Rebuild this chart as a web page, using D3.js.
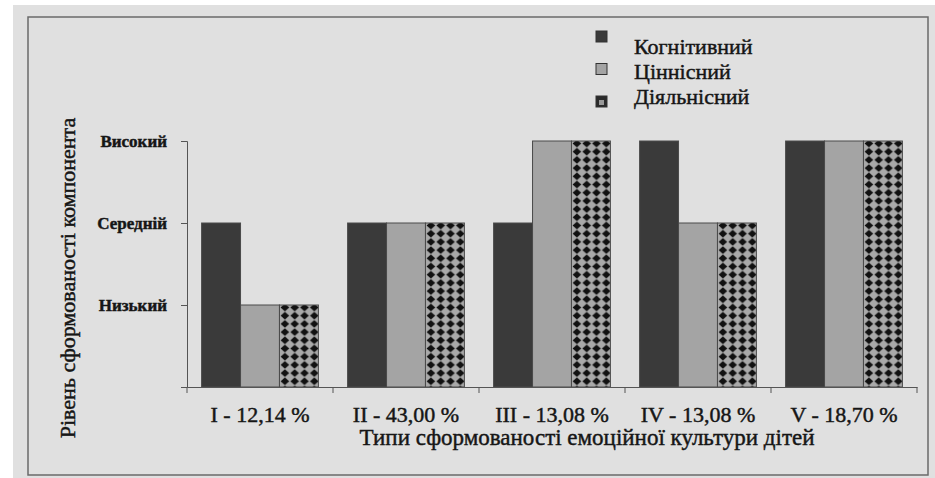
<!DOCTYPE html>
<html>
<head>
<meta charset="utf-8">
<script src="https://cdn.jsdelivr.net/npm/d3@7"></script>
<style>
  body { margin: 0; background: #fff; }
  text { font-family: 'Liberation Serif', 'Times New Roman', serif; fill: #161616; stroke: #161616; stroke-width: 0.45px; }
</style>
</head>
<body>
<div class="root"></div>
<script>
'use strict';

var types = ['I - 12,14 %', 'II - 43,00 %', 'III - 13,08 %', 'IV - 13,08 %', 'V - 18,70 %'];
var series = ['Когнітивний', 'Ціннісний', 'Діяльнісний'];
var levels = ['Низький', 'Середній', 'Високий'];
var cognitive = [2, 2, 2, 3, 3];
var valueComp = [1, 2, 3, 2, 3];
var activity = [1, 2, 3, 2, 3];

var values = [cognitive, valueComp, activity];
var fills = ['#3a3a3a', '#a4a4a4', 'url(#dots)'];

var svg = d3.select('div.root').append('svg')
  .attr('width', 935)
  .attr('height', 478);

// dotted fill for the third series (black diamonds on grey)
var pat = svg.append('defs').append('pattern')
  .attr('id', 'dots')
  .attr('patternUnits', 'userSpaceOnUse')
  .attr('width', 9.8)
  .attr('height', 8.2);
pat.append('rect').attr('width', 9.8).attr('height', 8.2).attr('fill', '#a9a9a9');
pat.append('path')
  .attr('d', 'M4.9,0.2 L9.2,4.1 L4.9,8.0 L0.6,4.1 Z')
  .attr('fill', '#111');

// scanned page + frame
svg.append('rect')
  .attr('x', 13).attr('y', 5)
  .attr('width', 922).attr('height', 473)
  .attr('fill', '#e0e0e0');

svg.append('rect')
  .attr('x', 28).attr('y', 17)
  .attr('width', 900).attr('height', 458)
  .attr('fill', 'none')
  .attr('stroke', '#6a6a6a')
  .attr('stroke-width', 1.5);

var x0 = d3.scaleBand().domain(types).range([187, 917]).paddingInner(0.2).paddingOuter(0.1);
var x1 = d3.scaleBand().domain(series).range([0, x0.bandwidth()]);
var y = d3.scaleLinear().domain([0, 3]).range([387, 141]);

// bars
var groups = svg.selectAll('g.grp')
  .data(types)
  .enter().append('g')
  .attr('class', 'grp')
  .attr('transform', function (d) { return 'translate(' + x0(d) + ',0)'; });

groups.selectAll('rect')
  .data(function (d, i) {
    return series.map(function (s, k) { return { s: s, k: k, v: values[k][i] }; });
  })
  .enter().append('rect')
  .attr('x', function (d) { return x1(d.s); })
  .attr('y', function (d) { return y(d.v); })
  .attr('width', x1.bandwidth())
  .attr('height', function (d) { return y(0) - y(d.v); })
  .attr('fill', function (d) { return fills[d.k]; })
  .attr('stroke', '#4a4a4a')
  .attr('stroke-width', 1);

// y axis
var yAxis = svg.append('g')
  .attr('transform', 'translate(187,0)')
  .call(d3.axisLeft(y).tickValues([0, 1, 2, 3]).tickSize(6)
    .tickFormat(function (d) { return d === 0 ? '' : levels[d - 1]; }));
yAxis.select('.domain').attr('stroke', '#555');
yAxis.selectAll('.tick line').attr('stroke', '#555');
yAxis.selectAll('.tick text')
  .attr('x', -20)
  .attr('font-size', 17)
  .attr('font-weight', 'bold');

// x axis
var xAxis = svg.append('g')
  .attr('transform', 'translate(0,387)')
  .call(d3.axisBottom(x0).tickSize(0).tickSizeOuter(0));
xAxis.select('.domain').attr('stroke', '#555');
xAxis.selectAll('.tick text')
  .attr('y', 35)
  .attr('dy', 0)
  .attr('font-size', 22);

// separators between groups
var seps = [0, 1, 2, 3, 4, 5];
svg.selectAll('line.sep')
  .data(seps)
  .enter().append('line')
  .attr('class', 'sep')
  .attr('x1', function (d) { return 187 + d * x0.step(); })
  .attr('x2', function (d) { return 187 + d * x0.step(); })
  .attr('y1', 387)
  .attr('y2', 393)
  .attr('stroke', '#555');

// axis titles
svg.append('text')
  .attr('x', 587)
  .attr('y', 445)
  .attr('text-anchor', 'middle')
  .attr('font-size', 23)
  .text('Типи сформованості емоційної культури дітей');

svg.append('text')
  .attr('transform', 'translate(75,278) rotate(-90)')
  .attr('text-anchor', 'middle')
  .attr('font-size', 22)
  .text('Рівень сформованості компонента');

// legend
var legend = svg.selectAll('g.leg')
  .data(series)
  .enter().append('g')
  .attr('class', 'leg');

legend.append('rect')
  .attr('x', 596)
  .attr('y', function (d, i) { return 31 + i * 32.5; })
  .attr('width', 11)
  .attr('height', 11)
  .attr('fill', function (d, i) { return i === 2 ? '#2a2a2a' : fills[i]; })
  .attr('stroke', '#333');

legend.filter(function (d, i) { return i === 2; }).append('rect')
  .attr('x', 599)
  .attr('y', 100)
  .attr('width', 5)
  .attr('height', 5)
  .attr('fill', '#999');

legend.append('text')
  .attr('x', 634)
  .attr('y', function (d, i) { return 54 + i * 25; })
  .attr('font-size', 22)
  .text(function (d) { return d; });
</script>
</body>
</html>
